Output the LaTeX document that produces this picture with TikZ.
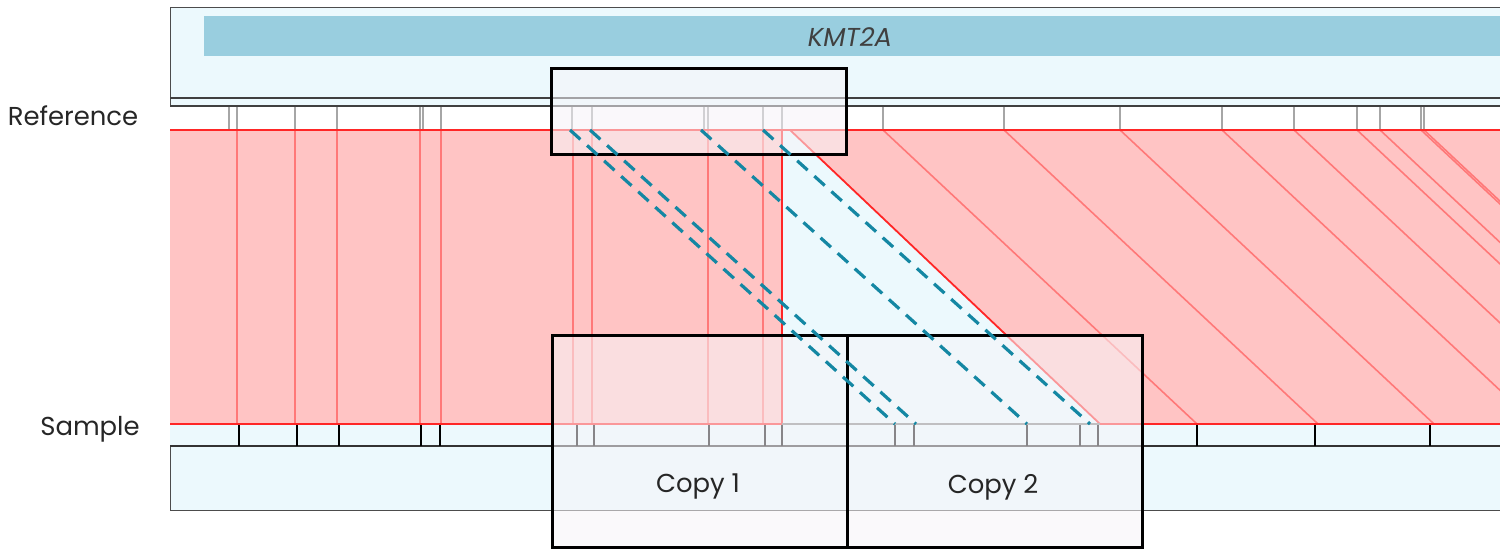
\documentclass[tikz,border=0pt]{standalone}
\usepackage{fontspec}
\setmainfont{Poppins}
\begin{document}
\begin{tikzpicture}[x=1bp,y=-1bp,
  reftick/.style={draw=black!35,line width=1.5bp},
  samtick/.style={draw=black,line width=1.8bp},
  redln/.style={draw=red!65!white,line width=1.6bp,opacity=0.7},
  copydash/.style={draw=teal2,line width=3.2bp,dash pattern=on 14bp off 9bp},
  box/.style={draw=black,line width=3bp,fill=boxf,fill opacity=0.55},
  lab/.style={font=\fontsize{26}{30}\selectfont,text=black!85}]
\definecolor{bgblue}{HTML}{ECF9FD}
\definecolor{barblue}{HTML}{99CEDF}
\definecolor{pinkf}{HTML}{FFC4C4}
\definecolor{teal2}{HTML}{1487A3}
\definecolor{boxf}{HTML}{F6F4F8}
\useasboundingbox (0,0) rectangle (1500,555);
% frame
\fill[bgblue] (170,8) rectangle (1500,510);
\draw[black!70,line width=1bp] (1500,8) -- (170,8) -- (170,510) -- (1500,510);
\fill[barblue] (204,16) rectangle (1500,56);
\node[font=\fontsize{26}{30}\selectfont\itshape,text=black!75] (gene) at (850,37) {KMT2A};
% reference track
\fill[white] (170,106) rectangle (1500,130);
\draw[black!75,line width=1.5bp] (170,98) -- (1500,98);
\draw[black!75,line width=1.5bp] (170,106) -- (1500,106);
\foreach \x in {229,237,295,337,420,423,441,572,592,704,708,763,782,883,1004,1120,1222,1294,1357,1380,1421,1424}
  \draw[reftick] (\x,107) -- (\x,130);
% red areas
\fill[pinkf] (170,130) rectangle (782,424);
\fill[pinkf] (790,130) -- (1500,130) -- (1500,424) -- (1100,424) -- cycle;
% vertical links
\foreach \x in {237,295,337,420,441,573,592,708,763}
  \draw[redln] (\x,130) -- (\x,424);
\draw[red!85!white,line width=1.8bp] (782,130) -- (782,424);
\draw[red!85!white,line width=1.8bp] (790,130) -- (1100,424);
% diagonal links
\begin{scope}
\clip (170,130) rectangle (1500,424);
\foreach \x in {883,1004,1120,1222,1294,1357,1380,1421,1424}
  \draw[redln] (\x,130) -- ({\x+314},424);
\end{scope}
\draw[red!85!white,line width=2bp] (170,130) -- (1500,130);
% sample track
\fill[bgblue] (170,424) rectangle (1500,446);
\draw[red!85!white,line width=2bp] (170,424) -- (782,424);
\draw[red!85!white,line width=2bp] (1100,424) -- (1500,424);
\draw[black!50,line width=2bp] (782,424) -- (1100,424);
\draw[black!80,line width=2bp] (170,446) -- (1500,446);
\foreach \x in {239,297,339,421,440,577,594,709,765,782,895,914,1027,1080,1098,1197,1315,1430}
  \draw[samtick] (\x,425) -- (\x,446);
% boxes
\draw[box] (551,69) rectangle (846,155);
\node[box,minimum width=295bp,minimum height=212bp,anchor=north west,inner sep=0pt] (c1) at (551,334) {};
\node[box,minimum width=295bp,minimum height=212bp,anchor=north west,inner sep=0pt] (c2) at (846,334) {};
\draw[black,line width=3bp] (551,69) rectangle (846,155);
% dashed copies
\draw[copydash] (570,130) -- (895,424);
\draw[copydash] (590,130) -- (916,424);
\draw[copydash] (701,130) -- (1027,424);
\draw[copydash] (763,130) -- (1090,424);
\node[lab] (l1) at (698,487) {Copy 1};
\node[lab] (l2) at (993,487) {Copy 2};
% side labels
\node[lab] (ref) at (73,116) {Reference};
\node[lab] (sam) at (90,429) {Sample};
\end{tikzpicture}
\end{document}
